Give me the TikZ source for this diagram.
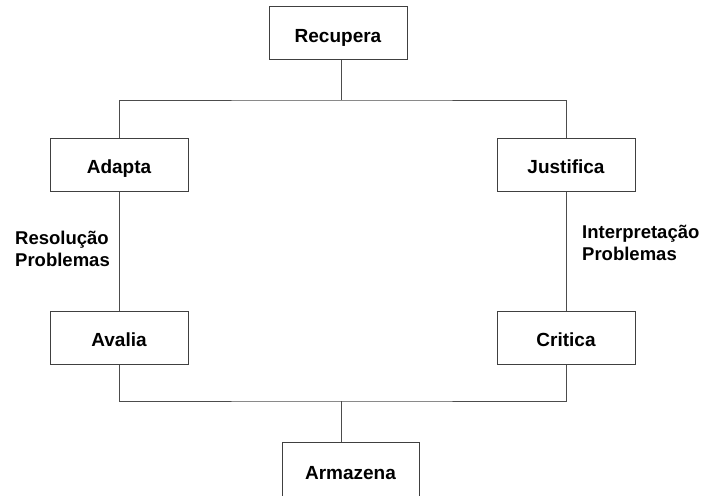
\documentclass[tikz,border=0pt]{standalone}
\usepackage{fontspec}
\setmainfont{Liberation Sans}
\usepackage{tikz}
\usetikzlibrary{positioning}
\tikzset{
  etapa/.style={draw=black!75, line width=1pt, fill=white, minimum width=138pt, minimum height=53pt,
    inner sep=0pt, text height=18pt, text depth=0pt, font=\bfseries\fontsize{19}{22}\selectfont},
  rotulo/.style={align=left, inner sep=0pt, font=\bfseries\fontsize{18.5}{22}\selectfont},
  liga/.style={draw=black!70, line width=1pt}
}
\begin{document}
\begin{tikzpicture}[x=1pt,y=-1pt]
		\useasboundingbox (0,0) rectangle (703,495);
		\coordinate(T) at (341,100);
		\coordinate(U) at (341,401);
		
		\node[etapa](R) at (338,33)				{Recupera};
		\node[etapa](A1) at (119,164.5)			{Adapta};
		\node[etapa](J1) at (566,164.5)			{Justifica};
		\node[etapa](A2) at (119,337.5)			{Avalia};
		\node[etapa](C2) at (566,337.5)			{Critica};
		\node[etapa, minimum width=137pt, minimum height=56pt](M) at (350.5,470)	{Armazena};
		
		\node[rotulo, anchor=west](L1) at (15,249)		{Resolução\\Problemas};
		\node[rotulo, anchor=west](L2) at (582,242.5)	{Interpretação\\Problemas};
		
		\draw[liga](R.south -| T) -- (T); 
		\draw[liga](A1) |- (T) -| (J1); 
		\draw[liga](A1) -- (A2); 
		\draw[liga](J1) -- (C2); 
		\draw[liga](A2) |- (U) -| (C2); 
		\draw[liga](U) -- (U |- M.north); 
\end{tikzpicture}
\end{document}
